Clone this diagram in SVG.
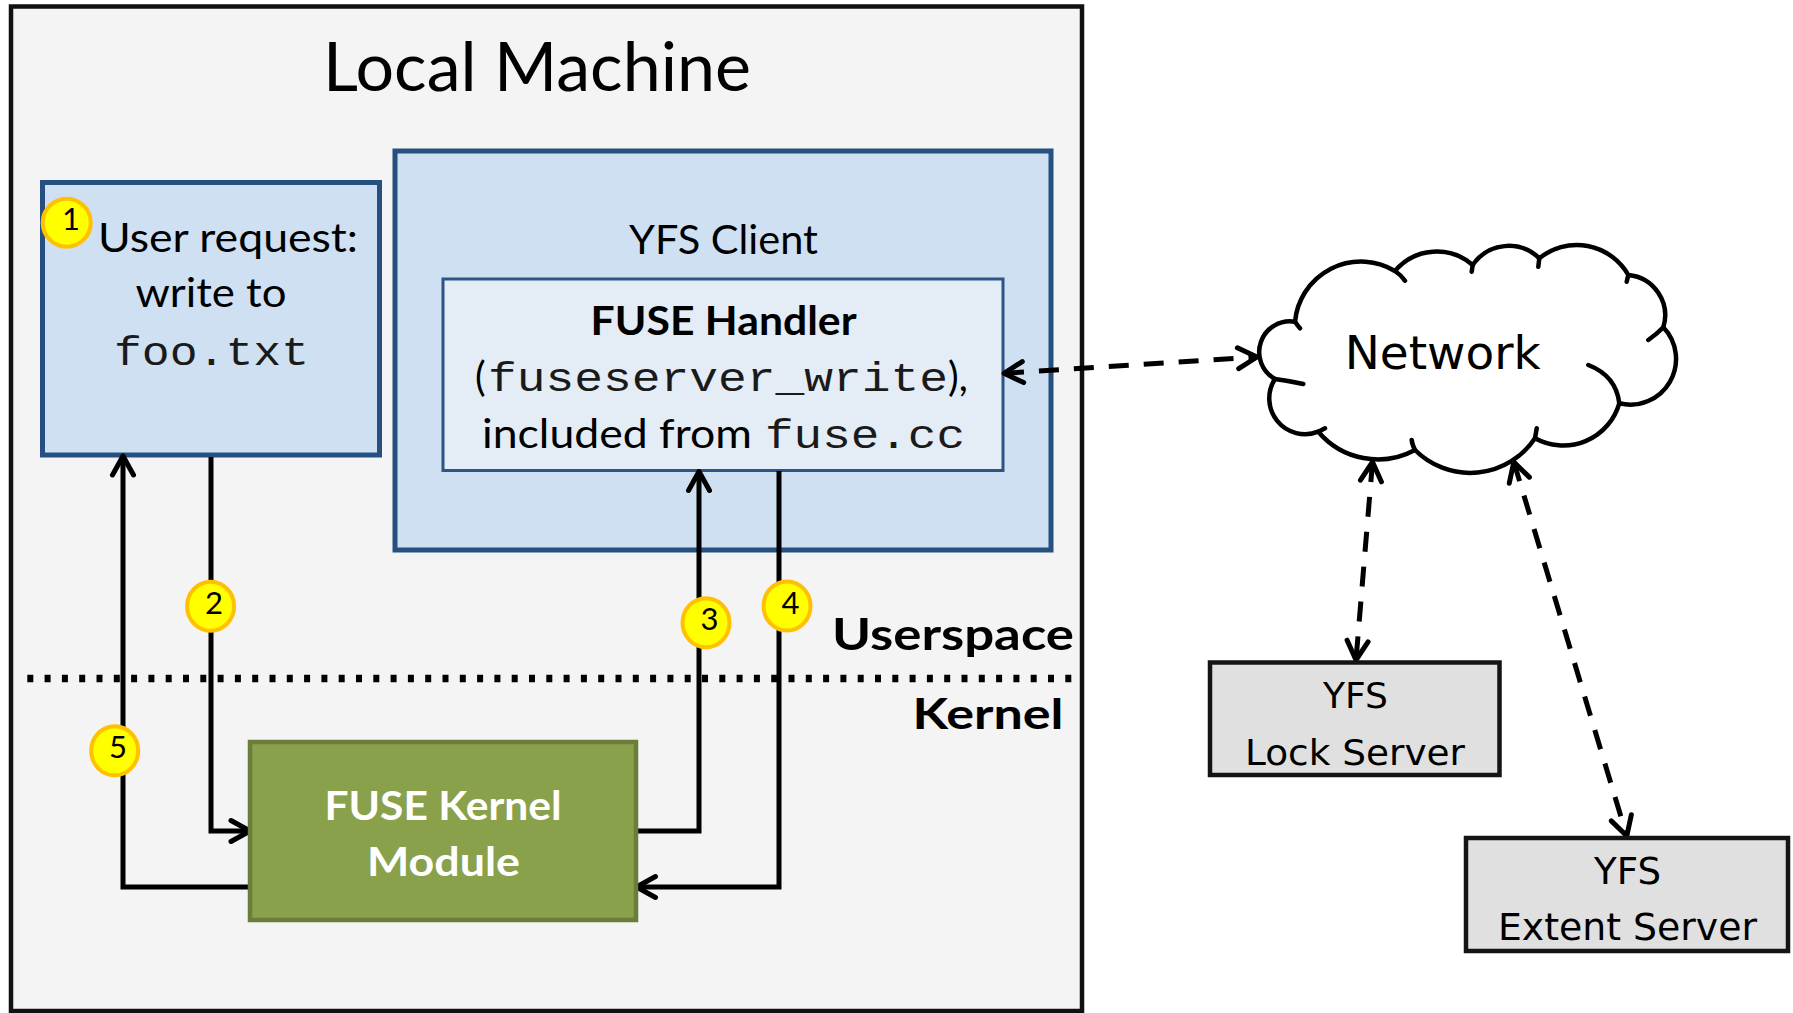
<svg xmlns="http://www.w3.org/2000/svg" width="1793" height="1013" viewBox="0 0 1793 1013">
  <defs>
    <style>
      .cal { font-family: Lato, "Liberation Sans", sans-serif; fill: #000; }
      .mono { font-family: "Liberation Mono", "DejaVu Sans Mono", monospace; fill: #1a1a1a; }
      .dv { font-family: "DejaVu Sans", Verdana, sans-serif; fill: #000; }
      .bold { font-weight: 700; }
      .blue { fill: #CFE0F2; stroke: #25507F; stroke-width: 5; }
      .server { fill: #E0E0E0; stroke: #141414; stroke-width: 4.5; }
      .badge { fill: #FFFF00; stroke: #FFC000; stroke-width: 4; }
      .num { font-family: Lato, "Liberation Sans", sans-serif; font-size: 31px; fill: #000; text-anchor: middle; }
      .flow { fill: none; stroke: #000; stroke-width: 5; stroke-linejoin: miter; marker-end: url(#chev); }
      .link { fill: none; stroke: #000; stroke-width: 5; stroke-dasharray: 20 15; marker-start: url(#chev); marker-end: url(#chev); }
      .cloud { fill: none; stroke: #000; stroke-width: 4.5; stroke-linecap: round; }
    </style>
    <marker id="chev" viewBox="-24 -15 30 30" refX="0" refY="0" markerWidth="30" markerHeight="30" markerUnits="userSpaceOnUse" orient="auto-start-reverse" overflow="visible">
      <path d="M-19,-10.5 L0,0 L-19,10.5" fill="none" stroke="#000" stroke-width="5" stroke-dasharray="none" stroke-linecap="round" stroke-linejoin="round"/>
    </marker>
  </defs>

  <rect width="1793" height="1013" fill="#FFFFFF"/>

  <!-- local machine frame -->
  <g id="local-machine">
    <rect x="11" y="6.5" width="1071" height="1004.5" fill="#F4F4F4" stroke="#111" stroke-width="4.5"/>
    <text class="cal" x="537" y="91" font-size="67" text-anchor="middle" textLength="428" lengthAdjust="spacingAndGlyphs">Local Machine</text>
  </g>

  <!-- userspace / kernel boundary -->
  <g id="boundary">
    <line x1="27.3" y1="678.5" x2="1078" y2="678.5" stroke="#000" stroke-width="7.5" stroke-dasharray="6 11.3"/>
    <text class="cal bold" x="1074" y="650" font-size="44" text-anchor="end" textLength="242" lengthAdjust="spacingAndGlyphs">Userspace</text>
    <text class="cal bold" x="1063.5" y="729" font-size="42" text-anchor="end" textLength="151" lengthAdjust="spacingAndGlyphs">Kernel</text>
  </g>

  <g id="user-request">
    <rect class="blue" x="42.5" y="182.5" width="337" height="272.5"/>
    <text class="cal" x="228" y="252" font-size="40" text-anchor="middle" textLength="260" lengthAdjust="spacingAndGlyphs">User request:</text>
    <text class="cal" x="211" y="307" font-size="40" text-anchor="middle" textLength="151" lengthAdjust="spacingAndGlyphs">write to</text>
    <text class="mono" x="211.5" y="365" font-size="40" text-anchor="middle" textLength="195" lengthAdjust="spacingAndGlyphs">foo.txt</text>
  </g>

  <g id="yfs-client">
    <rect class="blue" x="395" y="151" width="656" height="399"/>
    <text class="cal" x="723.5" y="254" font-size="40" text-anchor="middle" textLength="189" lengthAdjust="spacingAndGlyphs">YFS Client</text>
  </g>

  <g id="fuse-handler">
    <rect x="443" y="279" width="560" height="191.5" fill="#E4ECF6" stroke="#2C5585" stroke-width="3"/>
    <text class="cal bold" x="723.6" y="335" font-size="40" text-anchor="middle" textLength="266" lengthAdjust="spacingAndGlyphs">FUSE Handler</text>
    <text class="cal" y="391" font-size="40"><tspan x="475">(</tspan><tspan class="mono" x="488" font-size="40" textLength="460" lengthAdjust="spacingAndGlyphs">fuseserver_write</tspan><tspan x="948">),</tspan></text>
    <text class="cal" y="448" font-size="40"><tspan x="482" textLength="270" lengthAdjust="spacingAndGlyphs">included from</tspan><tspan class="mono" x="765" font-size="40" textLength="200" lengthAdjust="spacingAndGlyphs">fuse.cc</tspan></text>
  </g>

  <!-- flow arrows between the boxes -->
  <g id="connectors">
    <path class="flow" d="M211,457 V831 H250"/>
    <path class="flow" d="M636,831 H699 V471.5"/>
    <path class="flow" d="M779,471 V887 H636.5"/>
    <path class="flow" d="M250,887 H123 V456"/>
    <path class="link" d="M1004,373.3 L1257,357"/>
    <path class="link" d="M1372.5,462 L1356,660"/>
    <path class="link" d="M1513.8,462 L1626.8,836"/>
  </g>

  <g id="fuse-kernel-module">
    <rect x="250" y="742" width="386" height="178" fill="#8AA14B" stroke="#6A7D3A" stroke-width="4.5"/>
    <text class="cal bold" x="443" y="820" font-size="41" style="fill:#FFFFFF" text-anchor="middle" textLength="237" lengthAdjust="spacingAndGlyphs">FUSE Kernel</text>
    <text class="cal bold" x="443.5" y="875.5" font-size="41" style="fill:#FFFFFF" text-anchor="middle" textLength="153" lengthAdjust="spacingAndGlyphs">Module</text>
  </g>

  <!-- numbered step badges -->
  <g id="step-1"><circle class="badge" cx="66.7" cy="222.7" r="24"/><text class="num" x="71" y="230">1</text></g>
  <g id="step-2"><ellipse class="badge" cx="210.6" cy="606.3" rx="23.5" ry="24.5"/><text class="num" x="214" y="614">2</text></g>
  <g id="step-3"><ellipse class="badge" cx="706" cy="622.7" rx="23.5" ry="24.5"/><text class="num" x="709.5" y="630">3</text></g>
  <g id="step-4"><ellipse class="badge" cx="787" cy="606" rx="23.5" ry="24.5"/><text class="num" x="790.5" y="614">4</text></g>
  <g id="step-5"><ellipse class="badge" cx="114.7" cy="750.7" rx="23.5" ry="24.5"/><text class="num" x="118" y="758">5</text></g>

  <g id="network">
    <path d="M1295,321.7 A66.2,66.2 0 0 1 1395,271 A54.7,54.7 0 0 1 1472.7,265 A43.7,43.7 0 0 1 1539.3,258.3 A59.4,59.4 0 0 1 1628.3,275 A40.5,40.5 0 0 1 1663.3,327.3 A45.7,45.7 0 0 1 1619.3,403.3 A58.4,58.4 0 0 1 1535,438.3 A78,78 0 0 1 1415,450 A78,78 0 0 1 1318.3,431.7 A35.8,35.8 0 0 1 1275,379 A30.8,30.8 0 0 1 1295,321.7 Z" fill="#FFFFFF" stroke="#000" stroke-width="4.5" stroke-linejoin="round"/>
    <path class="cloud" d="M1295,321.7 Q1297,325 1300,328.3 M1395,271 Q1401,275 1405,280.7 M1472.7,265 L1471.7,271.7 M1539.3,258.3 L1538.3,266.7 M1628.3,275 L1626.7,281.7 M1663.3,327.3 Q1657,334 1648.3,340 M1619.3,403.3 Q1616.2,375.9 1588.3,365 M1535,438.3 L1536.7,428.3 M1415,450 Q1412,444 1411.7,440 M1318.3,431.7 L1325,428.3 M1275,379 Q1290,381 1303.3,384"/>
    <text class="dv" x="1442.7" y="369" font-size="47" text-anchor="middle" textLength="196" lengthAdjust="spacingAndGlyphs">Network</text>
  </g>

  <g id="lock-server">
    <rect class="server" x="1210" y="662.5" width="289.5" height="112.5"/>
    <text class="dv" x="1355.5" y="708" font-size="36" text-anchor="middle" textLength="65" lengthAdjust="spacingAndGlyphs">YFS</text>
    <text class="dv" x="1355" y="765" font-size="36" text-anchor="middle" textLength="220" lengthAdjust="spacingAndGlyphs">Lock Server</text>
  </g>

  <g id="extent-server">
    <rect class="server" x="1466" y="838" width="322" height="113"/>
    <text class="dv" x="1627.5" y="883.5" font-size="37" text-anchor="middle" textLength="67" lengthAdjust="spacingAndGlyphs">YFS</text>
    <text class="dv" x="1627.5" y="940" font-size="37" text-anchor="middle" textLength="259" lengthAdjust="spacingAndGlyphs">Extent Server</text>
  </g>
</svg>
